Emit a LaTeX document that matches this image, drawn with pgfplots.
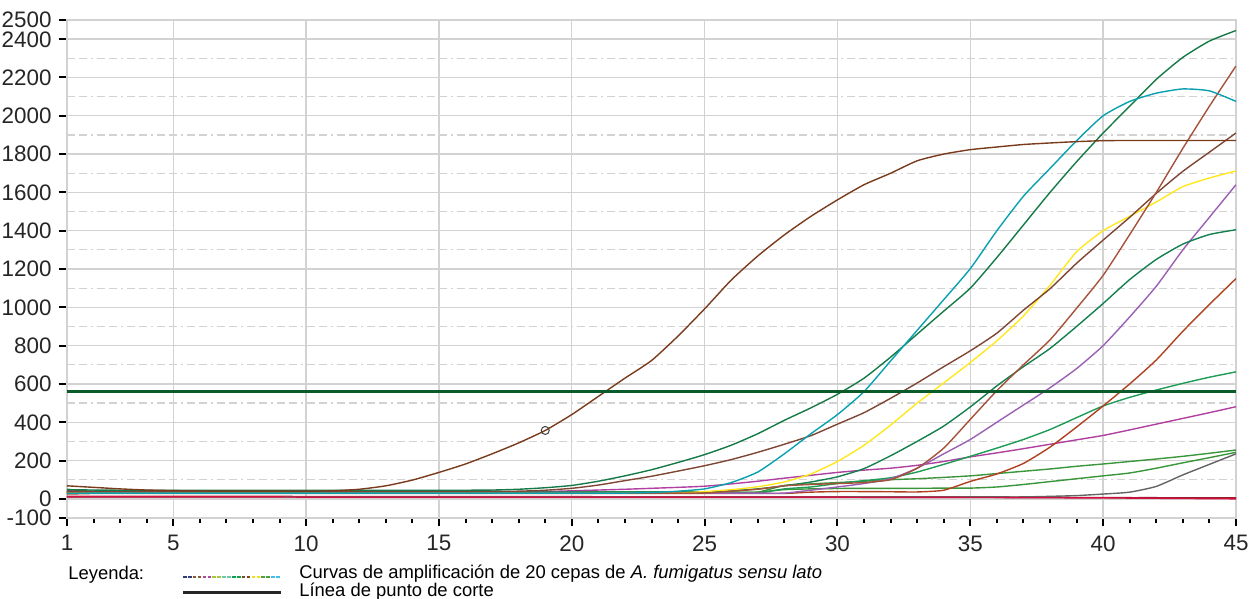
\documentclass[border=0pt]{standalone}
\usepackage{pgfplots}
\usepackage{pgfplotstable}
\pgfplotsset{compat=1.18}
\usepackage{fontspec}
\setmainfont{Liberation Sans}

\definecolor{gridgray}{RGB}{210,210,210}
\definecolor{cB}{RGB}{122,58,28}
\definecolor{cT}{RGB}{10,160,176}
\definecolor{cGa}{RGB}{22,122,72}
\definecolor{cSI}{RGB}{165,82,58}
\definecolor{cDB}{RGB}{128,70,52}
\definecolor{cY}{RGB}{255,232,30}
\definecolor{cGb}{RGB}{20,128,80}
\definecolor{cP}{RGB}{155,95,180}
\definecolor{cRB}{RGB}{176,64,30}
\definecolor{cGc}{RGB}{30,155,85}
\definecolor{cM}{RGB}{176,64,160}
\definecolor{cLG}{RGB}{58,150,58}
\definecolor{cGR}{RGB}{100,100,100}
\definecolor{cR}{RGB}{210,16,64}
\definecolor{cF}{RGB}{150,30,40}
\definecolor{cTh}{RGB}{11,90,42}
% legend swatch colours
\definecolor{s1}{RGB}{47,62,122}
\definecolor{s2}{RGB}{139,90,43}
\definecolor{s3}{RGB}{176,74,160}
\definecolor{s4}{RGB}{168,200,64}
\definecolor{s5}{RGB}{112,200,168}
\definecolor{s6}{RGB}{16,160,80}
\definecolor{s7}{RGB}{122,74,32}
\definecolor{s8}{RGB}{240,224,32}
\definecolor{s9}{RGB}{80,160,64}
\definecolor{s10}{RGB}{64,192,232}

\pgfplotstableread{
x  B1   T    G1   SI   DB   Y    G2   P    RB   G3   M    LG1  LG2  GR   R    F1
1  68   28   48   30   40   30   35   30   25   30   42   35   50   10   10   13
2  60   30   46   30   40   30   35   30   28   30   38   35   38   10   10   13
3  52   30   45   30   40   30   35   30   28   30   36   35   35   10   10   13
4  46   30   45   30   40   30   35   30   28   30   36   35   35   10   10   13
5  43   30   45   30   40   30   35   30   28   30   36   35   35   10   10   13
6  41   30   45   30   40   30   35   30   28   30   36   35   35   10   10   13
7  40   30   45   30   40   30   35   30   28   30   36   35   35   10   10   13
8  40   30   45   30   40   30   35   30   28   30   36   35   35   10   10   13
9  40   30   45   30   40   30   35   30   28   30   36   35   35   10   10   13
10 40   30   45   30   40   30   35   30   28   30   36   35   35   10   9    12
11 42   30   45   30   40   30   35   30   28   30   36   35   35   10   9    12
12 50   30   45   30   40   30   35   30   28   30   36   35   35   10   9    12
13 68   30   45   30   40   30   35   30   28   30   36   35   35   10   9    12
14 98   30   45   30   40   30   35   30   28   30   36   35   35   10   9    12
15 138  30   45   30   40   30   35   30   28   30   36   35   35   10   9    12
16 182  30   45   30   40   30   35   30   28   30   36   35   35   10   9    12
17 235  30   46   30   40   30   35   30   28   30   36   35   35   10   9    12
18 292  30   50   30   40   30   35   30   28   30   36   35   35   10   9    12
19 357  30   58   30   45   30   35   30   28   30   38   35   35   10   9    12
20 440  30   70   30   55   30   35   30   28   30   42   35   35   10   9    12
21 535  30   92   30   72   30   35   30   28   30   46   35   35   10   9    11
22 630  30   120  30   95   30   35   30   28   30   50   35   35   10   9    11
23 722  33   152  30   118  30   35   30   28   30   55   35   35   10   9    11
24 850  40   190  30   145  30   35   30   28   30   60   35   35   10   9    11
25 992  52   231  30   173  38   35   30   28   30   66   35   35   10   9    11
26 1142 85   280  40   205  48   42   30   28   30   78   35   35   10   9    11
27 1268 140  340  50   243  63   52   30   28   30   92   35   35   10   9    10
28 1378 235  410  68   285  88   68   30   28   52   108  70   48   10   9    10
29 1475 340  475  75   330  130  88   45   35   62   123  78   52   10   9    10
30 1561 440  546  80   390  195  115  62   38   80   138  85   54   10   9    10
31 1640 560  630  85   450  280  158  80   38   95   150  92   55   10   8    10
32 1700 720  740  100  525  385  225  105  37   110  160  100  55   10   8    10
33 1765 880  860  160  605  500  300  160  36   140  175  105  55   10   8    9
34 1800 1040 980  265  690  605  380  235  45   180  195  112  56   10   8    9
35 1823 1202 1100 415  773  712  480  310  91   222  219  120  56   10   7    9
36 1837 1400 1260 565  865  825  590  400  130  265  240  132  62   10   7    8
37 1850 1580 1430 700  985  955  690  490  185  310  262  144  75   10   6    8
38 1858 1725 1600 830  1097 1115 785  580  270  362  285  156  90   13   6    8
39 1865 1870 1760 995  1230 1290 900  680  375  424  308  170  105  17   5    7
40 1870 2000 1910 1167 1351 1400 1020 800  485  485  331  182  120  25   5    7
41 1871 2075 2050 1380 1470 1475 1145 950  600  530  360  195  135  35   4    6
42 1871 2118 2190 1600 1595 1550 1250 1110 725  568  390  208  160  65   3    6
43 1871 2140 2305 1830 1710 1630 1330 1300 875  603  420  222  188  125  2    5
44 1871 2130 2390 2050 1810 1675 1380 1470 1015 635  450  238  215  180  1    5
45 1871 2075 2445 2260 1910 1712 1405 1640 1150 663  481  255  243  235  0    5
}\curves

\begin{document}
\begin{tikzpicture}
\path[use as bounding box] (-33.5pt,-40.5pt) rectangle (595.5pt,259pt);
\begin{axis}[
  at={(0,0)}, anchor=south west,
  scale only axis, width=584.5pt, height=249pt,
  xmin=1, xmax=45, ymin=-100, ymax=2500,
  axis line style={draw=gridgray, line width=0.8pt},
  xtick={1,5,10,15,20,25,30,35,40,45},
  xticklabels={1,5,10,15,20,25,30,35,40,45},
  minor xtick={2,...,44},
  ytick={-100,0,200,400,600,800,1000,1200,1400,1600,1800,2000,2200,2400,2500},
  yticklabels={-100,0,200,400,600,800,1000,1200,1400,1600,1800,2000,2200,2400,2500},
  extra y ticks={100,300,500,700,900,1100,1300,1500,1700,1900,2100,2300},
  extra y tick labels={},
  extra y tick style={major tick length=0pt, grid=major,
     major grid style={gridgray, line width=0.6pt, dash pattern=on 4pt off 2pt on 4pt off 2pt on 1pt off 2pt}},
  xmajorgrids, ymajorgrids,
  major grid style={gridgray, line width=0.7pt},
  tick align=outside, tick pos=left,
  major tick length=4.2pt, minor tick length=2.6pt,
  tick style={black, line width=1pt},
  ticklabel style={font=\fontsize{11.2}{12}\selectfont, text=black!85},
  xticklabel style={yshift=-1pt},
  yticklabel style={inner ysep=0pt, text height=7.9pt, text depth=0pt},
  clip=true,
  every axis plot/.append style={line width=0.7pt, smooth, tension=0.35},
]
\addplot[cF, no marks] table[x=x, y=F1] {\curves};
\addplot[cGR, no marks] table[x=x, y=GR] {\curves};
\addplot[cLG, no marks] table[x=x, y=LG2] {\curves};
\addplot[cLG, no marks] table[x=x, y=LG1] {\curves};
\addplot[cM, no marks] table[x=x, y=M] {\curves};
\addplot[cGc, no marks] table[x=x, y=G3] {\curves};
\addplot[cRB, no marks] table[x=x, y=RB] {\curves};
\addplot[cP, no marks] table[x=x, y=P] {\curves};
\addplot[cGb, no marks] table[x=x, y=G2] {\curves};
\addplot[cY, no marks] table[x=x, y=Y] {\curves};
\addplot[cDB, no marks] table[x=x, y=DB] {\curves};
\addplot[cSI, no marks] table[x=x, y=SI] {\curves};
\addplot[cGa, no marks] table[x=x, y=G1] {\curves};
\addplot[cT, no marks] table[x=x, y=T] {\curves};
\addplot[cB, no marks] table[x=x, y=B1] {\curves};
\addplot[cR, no marks] table[x=x, y=R] {\curves};
\addplot[cTh, no marks, line width=1.4pt, sharp plot] coordinates {(1,560) (45,560)};
\addplot[black!75, only marks, mark=o, mark size=2pt, mark options={line width=0.5pt}] coordinates {(19,357)};
\end{axis}
% legend
\node[anchor=west, inner sep=0pt, font=\fontsize{9.2}{11}\selectfont] at (0.5pt,-28.5pt) {Leyenda:};
\foreach \c [count=\i from 0] in {s1,s1,s2,s2,s3,s3,s4,s4,s5,s5,s6,s6,s7,s7,s8,s8,s9,s9,s10,s10} {
  \draw[\c, line width=1pt] ({58pt+\i*2.45pt},-29.3pt) -- ++(1.8pt,0);
}
\draw[black!85, line width=1.2pt] (58pt,-37.3pt) -- (107pt,-37.3pt);
\node[anchor=west, inner sep=0pt, font=\fontsize{9.2}{11}\selectfont] at (116pt,-27.6pt) {Curvas de amplificación de 20 cepas de \textit{A. fumigatus sensu lato}};
\node[anchor=west, inner sep=0pt, font=\fontsize{9.2}{11}\selectfont] at (116pt,-37pt) {Línea de punto de corte};
\end{tikzpicture}
\end{document}
